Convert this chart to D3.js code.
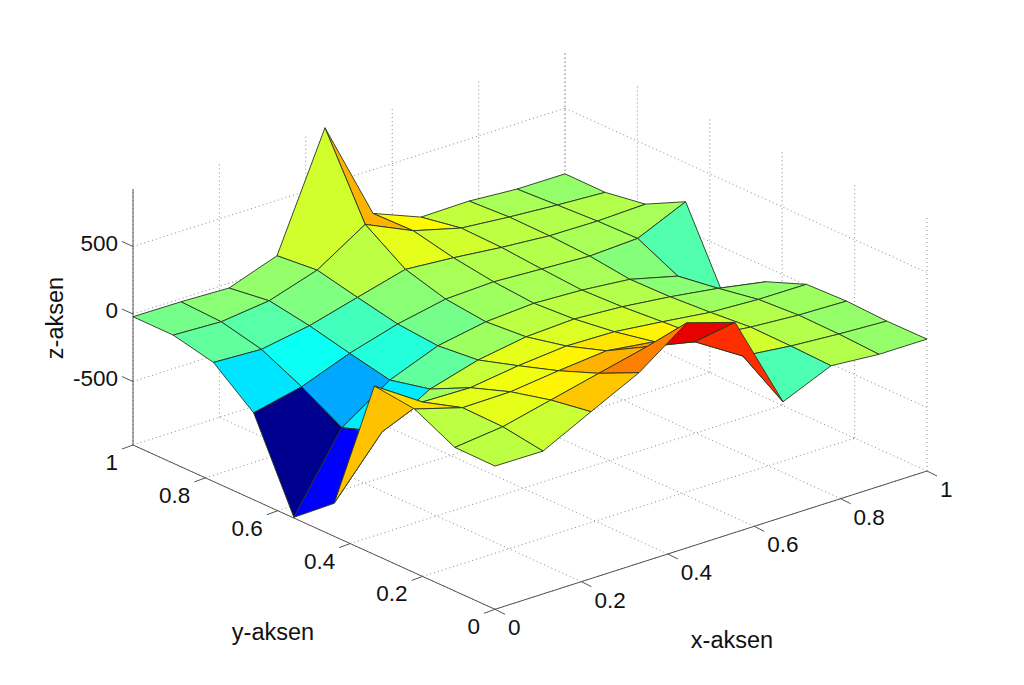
<!DOCTYPE html>
<html>
<head>
<meta charset="utf-8">
<script src="https://cdn.jsdelivr.net/npm/d3@7"></script>
<style>
    html, body { margin: 0; padding: 0; background: #fff; }
    svg { display: block; }
    text { font-family: "Liberation Sans", Arial, sans-serif; fill: #111; }
</style>
</head>
<body>
<svg width="1024" height="685"></svg>
<script>
// Grid positions of the surface
const xGrid = [0, 0.1111, 0.2222, 0.3333, 0.4444, 0.5556, 0.6667, 0.7778, 0.8889, 1];
const yGrid = [0, 0.1111, 0.2222, 0.3333, 0.4444, 0.5556, 0.6667, 0.7778, 0.8889, 1];

// Heights, one row per yGrid value, one column per xGrid value
const zRow0 = [91, 88, 266, 441, 697, 586, -116, 37, 8, 7];
const zRow1 = [94, 133, 217, 301, 384, 307, 88, 48, 23, 5];
const zRow2 = [243, 139, 143, 185, 219, 172, 93, 53, 28, 18];
const zRow3 = [278, 46, 38, 87, 119, 111, 71, 27, 9, 7];
const zRow4 = [-726, -310, -107, -6, 52, 70, 47, 7, -44, -109];
const zRow5 = [-965, -415, -176, -36, 28, 51, 35, 1, -89, -388];
const zRow6 = [-326, -247, -113, -10, 61, 75, 56, 38, 55, 213];
const zRow7 = [-88, -105, -44, 52, 146, 118, 81, 53, 48, 60];
const zRow8 = [-21, -36, 6, 119, 344, 183, 89, 57, 32, 12];
const zRow9 = [-20, -23, -35, 90, 924, 176, 35, 40, 15, 14];
const zRows = [zRow0, zRow1, zRow2, zRow3, zRow4, zRow5, zRow6, zRow7, zRow8, zRow9];

// Face colour values (0-1 on the jet map), not tied to height
const cRow0 = [0.56, 0.575, 0.68, 0.75, 0.9, 0.83, 0.45, 0.55, 0.52];
const cRow1 = [0.56, 0.6, 0.635, 0.7, 0.72, 0.6, 0.58, 0.55, 0.52];
const cRow2 = [0.66, 0.6, 0.61, 0.635, 0.65, 0.635, 0.58, 0.55, 0.53];
const cRow3 = [0.685, 0.53, 0.57, 0.6, 0.59, 0.58, 0.56, 0.53, 0.52];
const cRow4 = [0.125, 0.355, 0.47, 0.53, 0.56, 0.56, 0.55, 0.51, 0.5];
const cRow5 = [0, 0.29, 0.41, 0.49, 0.53, 0.54, 0.54, 0.505, 0.455];
const cRow6 = [0.35, 0.385, 0.44, 0.51, 0.54, 0.55, 0.55, 0.54, 0.54];
const cRow7 = [0.47, 0.46, 0.5, 0.56, 0.6, 0.58, 0.56, 0.55, 0.55];
const cRow8 = [0.49, 0.51, 0.52, 0.58, 0.7, 0.63, 0.565, 0.54, 0.52];
const cRows = [cRow0, cRow1, cRow2, cRow3, cRow4, cRow5, cRow6, cRow7, cRow8];

// Ticks
const xTicks = [0, 0.2, 0.4, 0.6, 0.8, 1];
const yTicks = [0, 0.2, 0.4, 0.6, 0.8, 1];
const zTicks = [-500, 0, 500];

const jetStops = [0, 0.125, 0.375, 0.625, 0.875, 1];
const jetColors = ["#00008f", "#0000ff", "#00ffff", "#ffff00", "#ff0000", "#800000"];
const jet = d3.scaleLinear().domain(jetStops).range(jetColors);

const svg = d3.select("svg");
const zMin = -970, zMax = 926;

// Scales: each data axis moves a point along its own screen direction
const xToPx = d3.scaleLinear().domain([0, 1]).range([0, 432]);
const xToPy = d3.scaleLinear().domain([0, 1]).range([0, -138.3]);
const yToPx = d3.scaleLinear().domain([0, 1]).range([0, -362]);
const yToPy = d3.scaleLinear().domain([0, 1]).range([0, -164.3]);
const zToPy = d3.scaleLinear().domain([zMin, zMax]).range([0, -256]);

const originX = 495, originY = 609.3;
const project = (x, y, z) => [
    originX + xToPx(x) + yToPx(y),
    originY + xToPy(x) + yToPy(y) + zToPy(z)
];

const line3d = (a, b, cls) => {
    const p = project(...a), q = project(...b);
    return svg.append("line")
        .attr("class", cls)
        .attr("x1", p[0]).attr("y1", p[1])
        .attr("x2", q[0]).attr("y2", q[1])
        .attr("stroke", cls === "grid" ? "#8a8a8a" : "#555")
        .attr("stroke-width", 1)
        .attr("stroke-dasharray", cls === "grid" ? "1,3" : null);
};

// Dotted grid: floor and the two back walls
xTicks.forEach(x => {
    line3d([x, 0, zMin], [x, 1, zMin], "grid");
    line3d([x, 1, zMin], [x, 1, zMax], "grid");
});
yTicks.forEach(y => {
    line3d([0, y, zMin], [1, y, zMin], "grid");
    line3d([1, y, zMin], [1, y, zMax], "grid");
});
zTicks.forEach(z => {
    line3d([0, 1, z], [1, 1, z], "grid");
    line3d([1, 1, z], [1, 0, z], "grid");
});

// Axis lines
line3d([0, 1, zMin], [0, 1, zMax], "axis");
line3d([0, 0, zMin], [0, 1, zMin], "axis");
line3d([0, 0, zMin], [1, 0, zMin], "axis");

// Tick marks
const tick = (p, dx, dy) => svg.append("line")
    .attr("x1", p[0]).attr("y1", p[1])
    .attr("x2", p[0] + dx).attr("y2", p[1] + dy)
    .attr("stroke", "#555");

const label = (p, txt, anchor) => svg.append("text")
    .attr("x", p[0]).attr("y", p[1])
    .attr("text-anchor", anchor)
    .style("font-size", "22.5px")
    .text(txt);

xTicks.forEach(x => {
    const p = project(x, 0, zMin);
    tick(p, 10, 5);
    label([p[0] + 13, p[1] + 26], x, "start");
});
yTicks.forEach(y => {
    const p = project(0, y, zMin);
    tick(p, -11, 4);
    label([p[0] - 15, p[1] + 25], y, "end");
});
zTicks.forEach(z => {
    const p = project(0, 1, z);
    tick(p, -11, -5);
    label([p[0] - 15, p[1] + 4], z, "end");
});

// Surface, painted from the far corner to the near one
const faces = [];
d3.range(yGrid.length - 2, -1, -1).forEach(j => {
    d3.range(xGrid.length - 2, -1, -1).forEach(i => {
        faces.push({
            c: cRows[j][i],
            pts: [
                project(xGrid[i], yGrid[j], zRows[j][i]),
                project(xGrid[i + 1], yGrid[j], zRows[j][i + 1]),
                project(xGrid[i + 1], yGrid[j + 1], zRows[j + 1][i + 1]),
                project(xGrid[i], yGrid[j + 1], zRows[j + 1][i])
            ]
        });
    });
});

svg.append("g")
    .selectAll("polygon")
    .data(faces)
    .join("polygon")
    .attr("points", d => d.pts.map(p => p.join(",")).join(" "))
    .attr("fill", d => jet(d.c))
    .attr("stroke", "#25351f")
    .attr("stroke-width", 0.9)
    .attr("stroke-linejoin", "round");

// Axis titles
svg.append("text")
    .attr("x", 273).attr("y", 640)
    .attr("text-anchor", "middle")
    .style("font-size", "23.5px")
    .text("y-aksen");

svg.append("text")
    .attr("x", 732).attr("y", 648)
    .attr("text-anchor", "middle")
    .style("font-size", "23.5px")
    .text("x-aksen");

svg.append("text")
    .attr("transform", "translate(63,318) rotate(-90)")
    .attr("text-anchor", "middle")
    .style("font-size", "23.5px")
    .text("z-aksen");
</script>
</body>
</html>
